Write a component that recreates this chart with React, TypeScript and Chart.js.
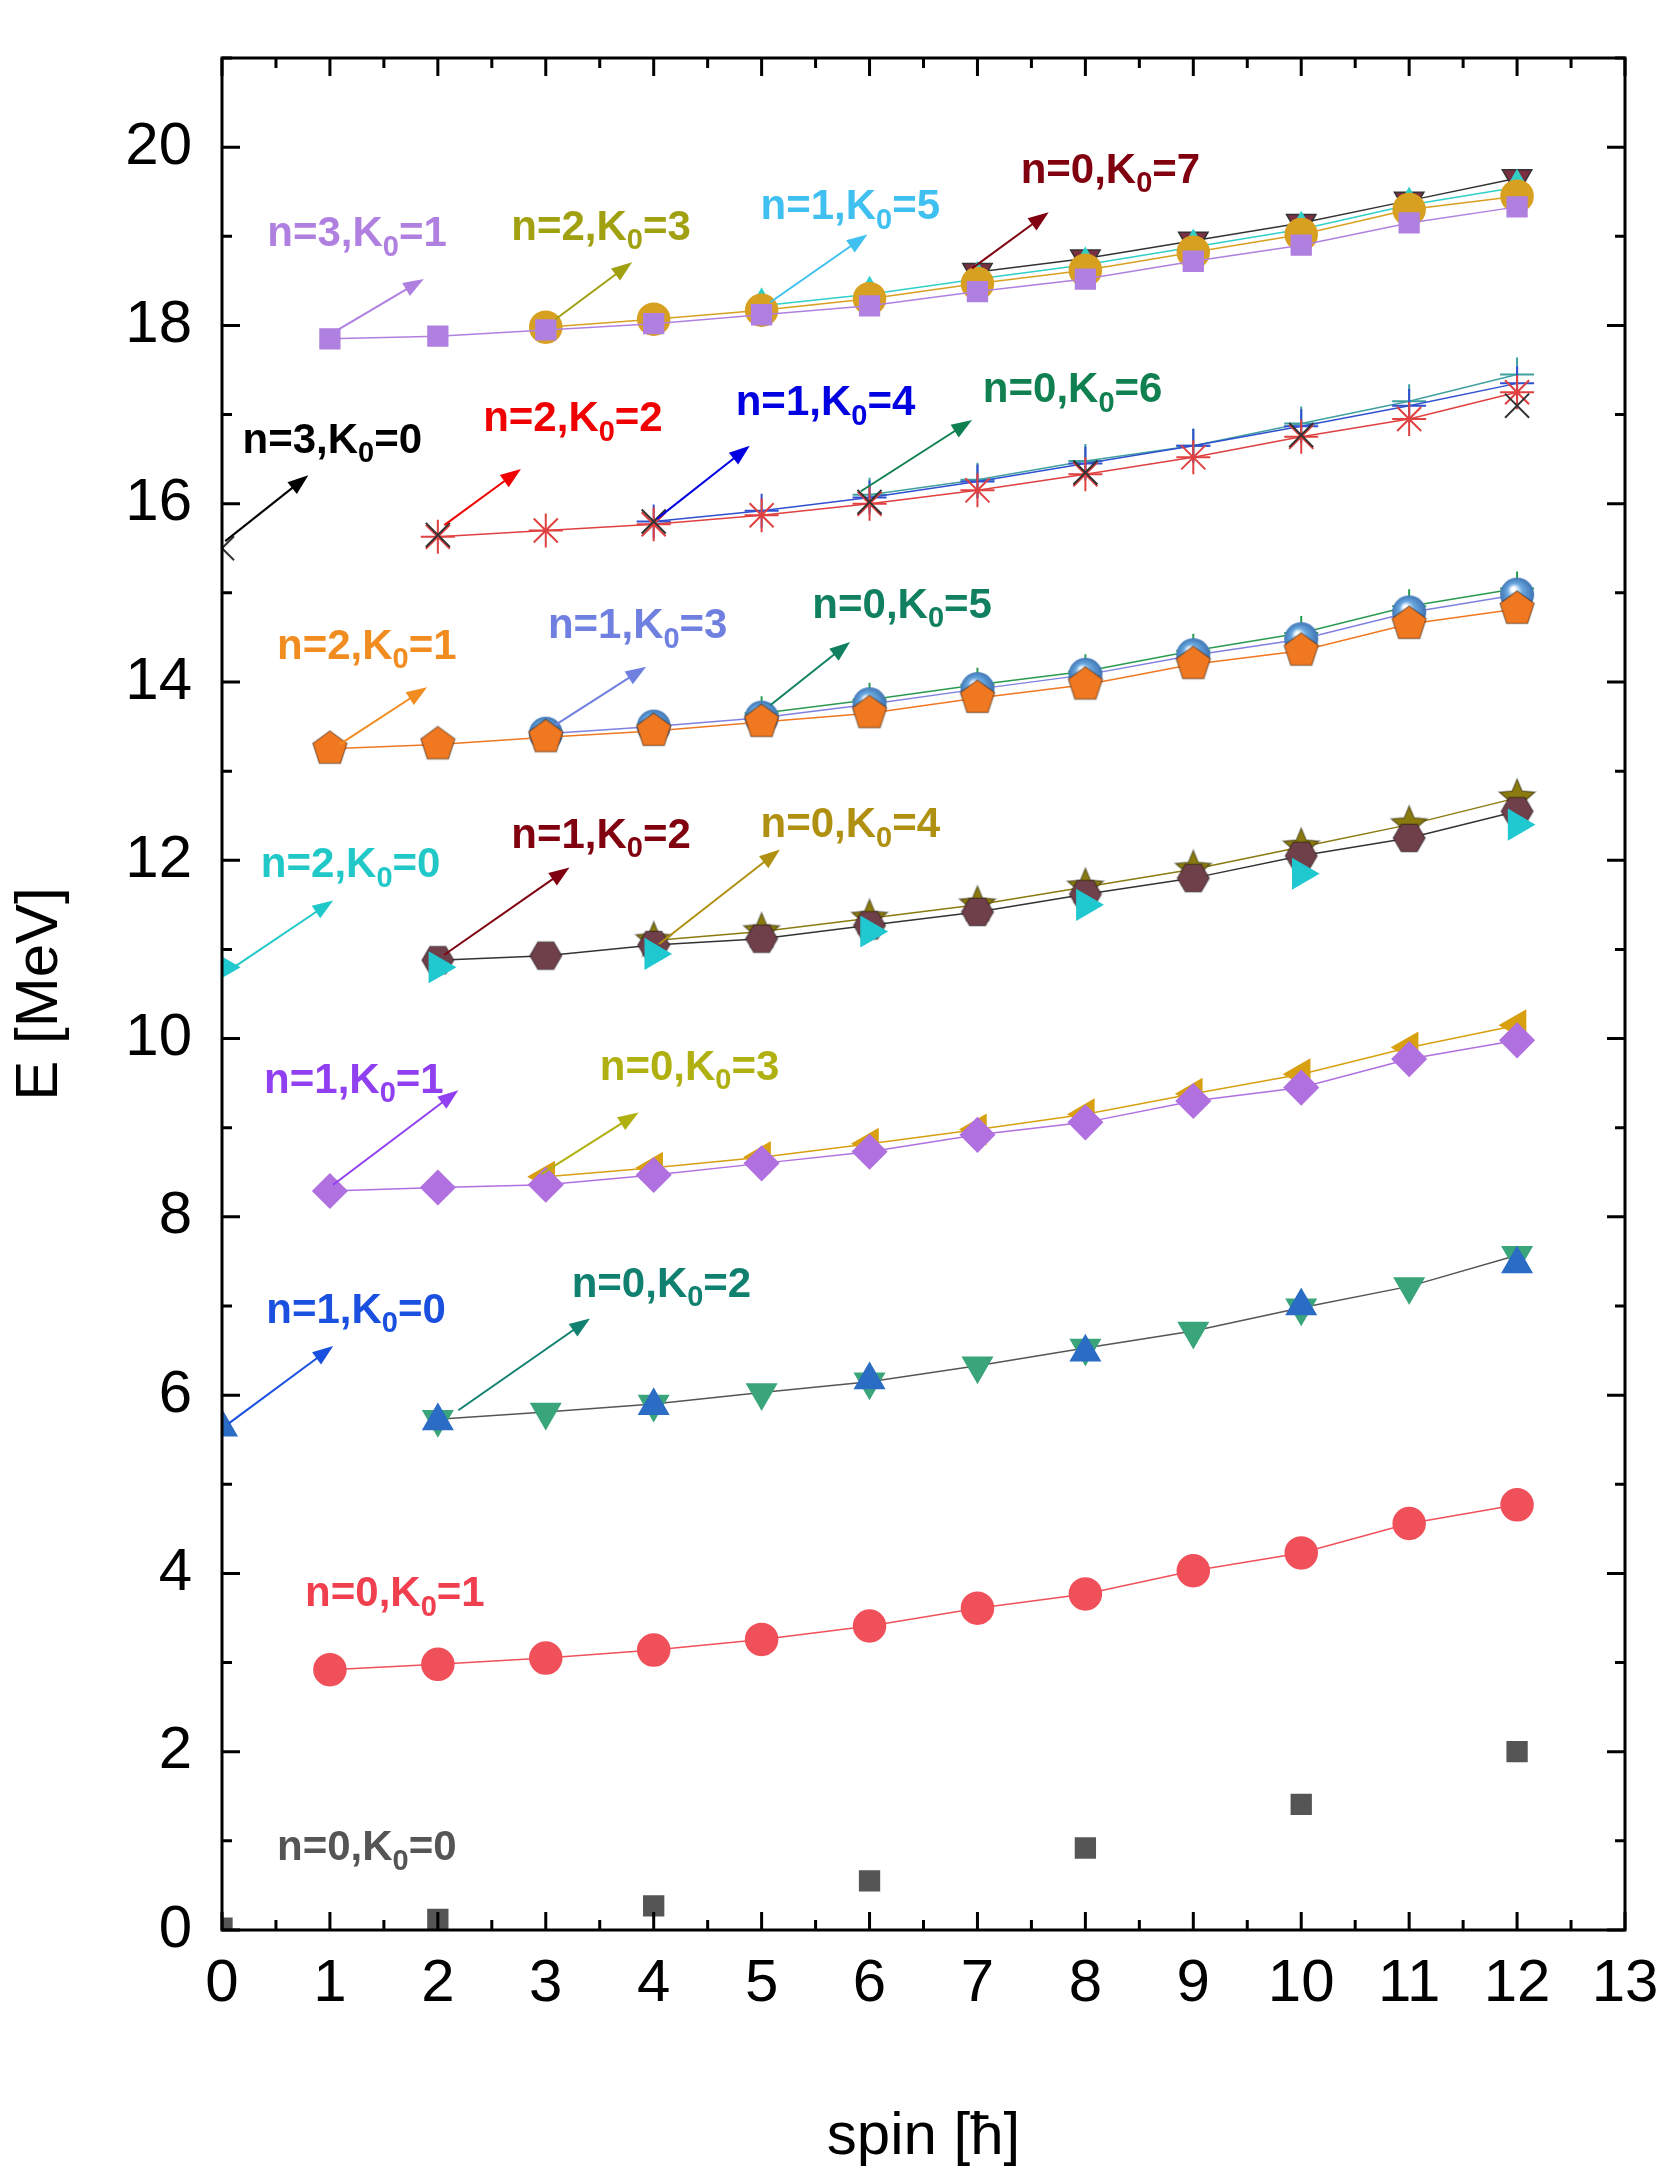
import React, { useEffect, useRef } from "react";
import { Chart, registerables } from "chart.js";
Chart.register(...registerables);

const evenSpins = [0, 2, 4, 6, 8, 10, 12];
const range = (a: number) => Array.from({ length: 13 - a }, (_, i) => a + i);

const e_n0k0 = [0.02, 0.12, 0.27, 0.55, 0.92, 1.41, 2.0];
const e_n0k1 = [2.92, 2.98, 3.05, 3.14, 3.26, 3.41, 3.61, 3.77, 4.03, 4.23, 4.56, 4.77];
const e_n1k0 = [5.64, 5.71, 5.88, 6.17, 6.48, 7.0, 7.47];
const e_n0k2 = [5.73, 5.81, 5.9, 6.03, 6.15, 6.33, 6.53, 6.72, 6.98, 7.22, 7.57];
const e_n1k1 = [8.29, 8.33, 8.36, 8.47, 8.6, 8.73, 8.92, 9.06, 9.3, 9.45, 9.77, 9.98];
const e_n0k3 = [8.45, 8.55, 8.67, 8.82, 8.98, 9.15, 9.38, 9.6, 9.9, 10.15];
const e_n2k0 = [10.8, 10.8, 10.95, 11.2, 11.5, 11.85, 12.4];
const e_n1k2 = [10.88, 10.93, 11.05, 11.12, 11.27, 11.42, 11.62, 11.8, 12.05, 12.25, 12.55];
const e_n0k4 = [11.1, 11.2, 11.35, 11.5, 11.7, 11.9, 12.15, 12.4, 12.7];
const e_n2k1 = [13.25, 13.3, 13.38, 13.45, 13.55, 13.65, 13.82, 13.97, 14.2, 14.35, 14.65, 14.82];
const e_n1k3 = [13.42, 13.5, 13.6, 13.75, 13.92, 14.08, 14.3, 14.48, 14.78, 14.98];
const e_n0k5 = [13.65, 13.8, 13.97, 14.12, 14.35, 14.55, 14.85, 15.05];
const e_n3k0 = [15.5, 15.65, 15.8, 16.02, 16.35, 16.77, 17.1];
const e_n2k2 = [15.63, 15.7, 15.77, 15.87, 16.0, 16.15, 16.33, 16.52, 16.75, 16.95, 17.25];
const e_n1k4 = [15.8, 15.92, 16.07, 16.25, 16.45, 16.65, 16.87, 17.1, 17.35];
const e_n0k6 = [16.1, 16.27, 16.48, 16.65, 16.9, 17.15, 17.45];
const e_n3k1 = [17.85, 17.88, 17.95, 18.02, 18.12, 18.22, 18.38, 18.52, 18.72, 18.9, 19.15, 19.33];
const e_n2k3 = [17.98, 18.07, 18.17, 18.3, 18.47, 18.62, 18.82, 19.02, 19.3, 19.45];
const e_n1k5 = [18.22, 18.35, 18.52, 18.68, 18.88, 19.08, 19.35, 19.55];
const e_n0k7 = [18.6, 18.75, 18.95, 19.15, 19.4, 19.65];

const labels: [number, number, number, number, number[] | null, string][] = [
  [0, 0, 0.51, 0.91, null, "#555555"],
  [0, 1, 0.77, 3.76, null, "#f04050"],
  [1, 0, 0.41, 6.94, [0.06, 5.68, 1.03, 6.55], "#1a50e0"],
  [0, 2, 3.24, 7.23, [2.19, 5.83, 3.41, 6.86], "#108070"],
  [1, 1, 0.39, 9.52, [1.03, 8.36, 2.19, 9.42], "#9040f0"],
  [0, 3, 3.5, 9.67, [2.96, 8.48, 3.86, 9.17], "#b0b010"],
  [2, 0, 0.36, 11.94, [0.06, 10.76, 1.03, 11.55], "#20c8c8"],
  [1, 2, 2.68, 12.27, [2.06, 10.94, 3.22, 11.92], "#800010"],
  [0, 4, 4.99, 12.39, [4.05, 11.06, 5.17, 12.12], "#b09010"],
  [2, 1, 0.51, 14.39, [1.09, 13.3, 1.9, 13.94], "#f08c20"],
  [1, 3, 3.02, 14.62, [3.09, 13.52, 3.93, 14.17], "#7080e0"],
  [0, 5, 5.47, 14.85, [5.08, 13.74, 5.82, 14.45], "#108060"],
  [3, 0, 0.19, 16.7, [0.03, 15.58, 0.8, 16.32], "#000000"],
  [2, 2, 2.42, 16.94, [2.06, 15.76, 2.77, 16.39], "#f00000"],
  [1, 4, 4.76, 17.12, [4.03, 15.83, 4.89, 16.65], "#0000e0"],
  [0, 6, 7.05, 17.27, [5.92, 16.14, 6.95, 16.94], "#108050"],
  [3, 1, 0.42, 19.02, [1.03, 17.92, 1.87, 18.52], "#b080e0"],
  [2, 3, 2.68, 19.09, [3.09, 18.07, 3.8, 18.71], "#a0a010"],
  [1, 5, 4.99, 19.32, [5.08, 18.26, 5.98, 19.02], "#40c0f0"],
  [0, 7, 7.4, 19.73, [6.95, 18.64, 7.66, 19.27], "#800010"],
];

function poly(n: number, color: string, size = 36, rot = -Math.PI / 2, star = false) {
  const c = document.createElement("canvas");
  c.width = size; c.height = size;
  const g = c.getContext("2d")!;
  const r = size / 2 - 2;
  g.beginPath();
  const pts = star ? n * 2 : n;
  for (let i = 0; i < pts; i++) {
    const a = rot + (i * 2 * Math.PI) / pts;
    const rr = star && i % 2 ? r * 0.45 : r;
    const px = size / 2 + rr * Math.cos(a), py = size / 2 + rr * Math.sin(a);
    i ? g.lineTo(px, py) : g.moveTo(px, py);
  }
  g.closePath();
  g.fillStyle = color; g.fill();
  g.strokeStyle = "rgba(0,0,0,0.35)"; g.lineWidth = 1.5; g.stroke();
  return c;
}
function sphere(color: string, size = 36) {
  const c = document.createElement("canvas");
  c.width = size; c.height = size;
  const g = c.getContext("2d")!;
  const grd = g.createRadialGradient(size * 0.4, size * 0.35, 2, size / 2, size / 2, size / 2);
  grd.addColorStop(0, "#ffffff"); grd.addColorStop(0.35, color); grd.addColorStop(1, "#3a70b0");
  g.beginPath(); g.arc(size / 2, size / 2, size / 2 - 1, 0, Math.PI * 2);
  g.fillStyle = grd; g.fill();
  return c;
}

export default function App() {
  const ref = useRef<HTMLCanvasElement>(null);
  useEffect(() => {
    document.body.style.margin = "0";
    const mk = (xs: number[], ys: number[], color: string, style: any, opts: any = {}) => ({
      data: ys.map((y, i) => ({ x: xs[i], y })),
      borderColor: color, backgroundColor: color, pointStyle: style,
      pointRadius: 17, borderWidth: 1.5, showLine: true, ...opts,
    });
    const datasets: any[] = [
      mk(evenSpins, e_n0k0, "#555555", "rect", { showLine: false, pointRadius: 14 }),
      mk(range(1), e_n0k1, "#f0505a", "circle", { pointRadius: 16 }),
      mk(evenSpins, e_n1k0, "#2b6cc4", "triangle", { showLine: false }),
      mk(range(2), e_n0k2, "#3aa57a", "triangle", { rotation: 180, borderColor: "#555", pointBorderColor: "#3aa57a" }),
      mk(range(1), e_n1k1, "#b070e0", "rectRot"),
      mk(range(3), e_n0k3, "#d8a010", "triangle", { rotation: -90 }),
      mk(evenSpins, e_n2k0, "#20c8d0", "triangle", { rotation: 90, showLine: false }),
      mk(range(2), e_n1k2, "#70404a", poly(6, "#70404a", 36, 0), { borderColor: "#333" }),
      mk(range(4), e_n0k4, "#8a7a10", poly(5, "#8a7a10", 42, -Math.PI / 2, true)),
      mk(range(1), e_n2k1, "#f07820", poly(5, "#f07820", 40)),
      mk(range(3), e_n1k3, "#6aa8e0", sphere("#6aa8e0"), { borderColor: "#8080e0" }),
      mk(range(5), e_n0k5, "#2a9a50", "cross", { pointBorderWidth: 2 }),
      mk(evenSpins, e_n3k0, "#333333", "crossRot", { showLine: false, pointBorderWidth: 2 }),
      mk(range(2), e_n2k2, "#e04040", "star", { pointBorderWidth: 2 }),
      mk(range(4), e_n1k4, "#3050d0", "cross", { pointBorderWidth: 2 }),
      mk(range(6), e_n0k6, "#40a040", "cross", { pointBorderWidth: 2, borderColor: "#40a0a0" }),
      mk(range(1), e_n3k1, "#b080e0", "rect", { pointRadius: 14 }),
      mk(range(3), e_n2k3, "#d8a020", "circle", { pointRadius: 16 }),
      mk(range(5), e_n1k5, "#30d0c8", "triangle"),
      mk(range(7), e_n0k7, "#7a3040", "triangle", { rotation: 180, borderColor: "#333" }),
    ];
    const FONT = "Liberation Sans, Arial, sans-serif";
    const deco = {
      id: "deco",
      afterDraw(ch: any) {
        const g = ch.ctx, xs = ch.scales.x, ys = ch.scales.y, a = ch.chartArea;
        g.save();
        g.strokeStyle = "#000"; g.lineWidth = 3;
        g.strokeRect(a.left, a.top, a.right - a.left, a.bottom - a.top);
        for (let v = 0; v <= 13; v += 0.5) {
          const L = v % 1 === 0 ? 18 : 10, px = xs.getPixelForValue(v);
          g.beginPath(); g.moveTo(px, a.bottom); g.lineTo(px, a.bottom - L);
          g.moveTo(px, a.top); g.lineTo(px, a.top + L); g.stroke();
        }
        for (let v = 0; v <= 21; v += 1) {
          const L = v % 2 === 0 ? 18 : 10, py = ys.getPixelForValue(v);
          g.beginPath(); g.moveTo(a.left, py); g.lineTo(a.left + L, py);
          g.moveTo(a.right, py); g.lineTo(a.right - L, py); g.stroke();
        }
        for (const [n, k, tx, ty, ar, col] of labels) {
          if (ar) {
            const x1 = xs.getPixelForValue(ar[0]), y1 = ys.getPixelForValue(ar[1]);
            const x2 = xs.getPixelForValue(ar[2]), y2 = ys.getPixelForValue(ar[3]);
            const ang = Math.atan2(y2 - y1, x2 - x1);
            g.strokeStyle = col; g.fillStyle = col; g.lineWidth = 2;
            g.beginPath(); g.moveTo(x1, y1); g.lineTo(x2 - 14 * Math.cos(ang), y2 - 14 * Math.sin(ang)); g.stroke();
            g.beginPath(); g.moveTo(x2, y2);
            g.lineTo(x2 - 22 * Math.cos(ang - 0.35), y2 - 22 * Math.sin(ang - 0.35));
            g.lineTo(x2 - 22 * Math.cos(ang + 0.35), y2 - 22 * Math.sin(ang + 0.35));
            g.closePath(); g.fill();
          }
          let px = xs.getPixelForValue(tx); const py = ys.getPixelForValue(ty);
          g.fillStyle = col; g.textBaseline = "middle"; g.textAlign = "left";
          g.font = `bold 42px ${FONT}`;
          const s1 = `n=${n},K`; g.fillText(s1, px, py); px += g.measureText(s1).width;
          g.font = `bold 29px ${FONT}`; g.fillText("0", px, py + 13); px += g.measureText("0").width;
          g.font = `bold 42px ${FONT}`; g.fillText(`=${k}`, px, py);
        }
        g.restore();
      },
    };
    const chart = new Chart(ref.current!, {
      type: "scatter",
      data: { datasets },
      plugins: [deco],
      options: {
        animation: false, responsive: false, maintainAspectRatio: false,
        layout: { padding: { top: -38, right: 47 } },
        plugins: { legend: { display: false }, tooltip: { enabled: false } },
        scales: {
          x: {
            type: "linear", min: 0, max: 13,
            grid: { display: false }, border: { display: false },
            ticks: { stepSize: 1, color: "#000", font: { size: 60, family: FONT }, padding: 10 },
            title: { display: true, text: "spin [ħ]", color: "#000", font: { size: 60, family: FONT }, padding: { top: 36 } },
            afterFit: (s: any) => { s.height = 247; },
          },
          y: {
            type: "linear", min: 0, max: 21,
            grid: { display: false }, border: { display: false },
            ticks: { stepSize: 2, color: "#000", font: { size: 60, family: FONT }, padding: 22,
              callback: (v: any) => (v % 2 === 0 && v <= 20 ? String(v) : "") },
            title: { display: true, text: "E [MeV]", color: "#000", font: { size: 60, family: FONT }, padding: { bottom: 6 } },
            afterFit: (s: any) => { s.width = 222; },
          },
        },
      } as any,
    });
    return () => chart.destroy();
  }, []);
  return <canvas ref={ref} width={1672} height={2177} style={{ display: "block", width: 1672, height: 2177 }} />;
}
